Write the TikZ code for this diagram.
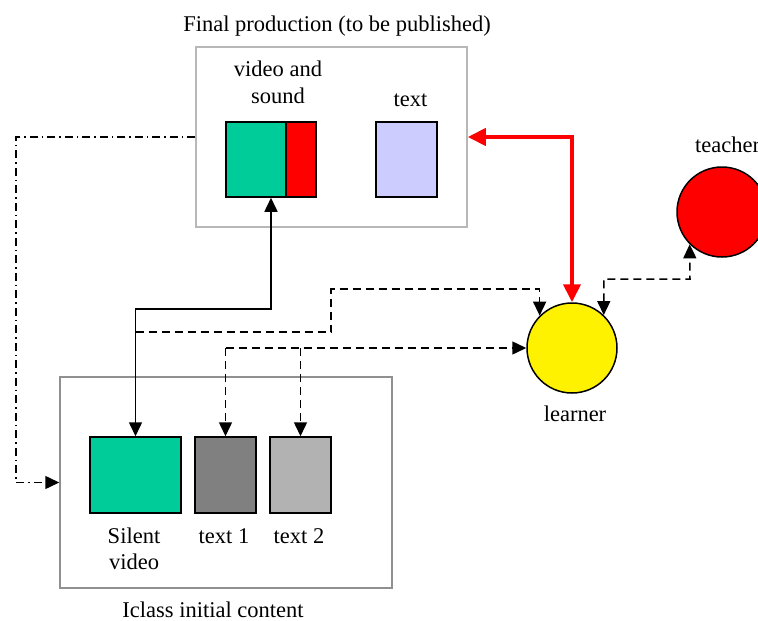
\documentclass[tikz,border=0pt]{standalone}
\usepackage{fontspec}
\setmainfont{Liberation Serif}
\usetikzlibrary{arrows.meta}
\definecolor{vgreen}{HTML}{00CC99}
\definecolor{lav}{HTML}{CCCCFF}
\definecolor{dgray}{HTML}{808080}
\definecolor{lgray}{HTML}{B2B2B2}
\definecolor{topframe}{HTML}{B8B8B8}
\definecolor{botframe}{HTML}{909090}
\tikzset{
  frame/.style={draw, line width=1.5pt, minimum width=#1},
  blk/.style={draw=black, line width=1.5pt, inner sep=0pt},
  circ/.style={circle, draw=black, line width=1.5pt, minimum size=90pt, inner sep=0pt},
  lbl/.style={inner sep=0pt, font=\fontsize{22.5}{27}\selectfont},
  conn/.style={line width=1.5pt, black, arrows={-Triangle[length=14pt,width=13pt]}},
  bothconn/.style={line width=1.5pt, black, arrows={Triangle[length=14pt,width=13pt]-Triangle[length=14pt,width=13pt]}},
  dsh/.style={dash pattern=on 8pt off 5pt},
  dshdot/.style={dash pattern=on 8pt off 4pt on 1.5pt off 4pt},
  redconn/.style={line width=4pt, red, arrows={Triangle[length=18pt,width=17pt]-Triangle[length=18pt,width=17pt]}}
}
\begin{document}
\begin{tikzpicture}[x=1pt,y=-1pt]
\useasboundingbox (0,0) rectangle (758,621);
% frames
\node[draw=topframe, line width=1.5pt, minimum width=271pt, minimum height=180pt, inner sep=0pt] (topbox) at (331.5,137) {};
\node[draw=botframe, line width=1.5pt, minimum width=332pt, minimum height=211pt, inner sep=0pt] (botbox) at (226,482.5) {};
% top content
\node[blk, fill=vgreen, minimum width=60pt, minimum height=75pt] (vgreen) at (256,159.5) {};
\node[blk, fill=red, minimum width=30pt, minimum height=75pt] (vred) at (301,159.5) {};
\node[blk, fill=lav, minimum width=61pt, minimum height=75pt] (txt) at (406.5,159.5) {};
% bottom content
\node[blk, fill=vgreen, minimum width=91pt, minimum height=76pt] (silent) at (135.5,475) {};
\node[blk, fill=dgray, minimum width=61pt, minimum height=76pt] (t1) at (225.5,475) {};
\node[blk, fill=lgray, minimum width=61pt, minimum height=76pt] (t2) at (300.5,475) {};
% circles
\node[circ, fill=yellow] (learner) at (572,348) {};
\node[circ, fill=red] (teacher) at (722,212) {};
% labels
\node[lbl, anchor=base] (ltitle) at (337,31) {Final production (to be published)};
\node[lbl, align=center] (lvs) at (278,82) {video and\\sound};
\node[lbl, anchor=base] (ltext) at (410.5,106.5) {text};
\node[lbl, align=center, font=\fontsize{22.5}{26}\selectfont] (lsilent) at (134,548.5) {Silent\\video};
\node[lbl, anchor=base] (lt1) at (224,543) {text 1};
\node[lbl, anchor=base] (lt2) at (299,543) {text 2};
\node[lbl, anchor=base] (liclass) at (213,617) {Iclass initial content};
\node[lbl, anchor=base] (llearner) at (575,421) {learner};
\node[lbl, anchor=base west] (lteacher) at (695,152) {teacher};
% solid connector
\coordinate (sj) at (271,309);
\draw[bothconn] (silent.north) |- (sj) -- (sj |- vgreen.south);
% dashed connectors
\coordinate (d1s) at (135.5,332);
\coordinate (d1m) at (331,289);
\draw[conn, dsh] (d1s) -| (d1m) -| (learner.135);
\coordinate (d2) at (t1.north |- learner.west);
\coordinate (d3) at (t2.north |- learner.west);
\draw[conn, dsh] (d2) -- (learner.west);
\draw[conn, dsh] (d2) -- (t1.north);
\draw[conn, dsh] (d3) -- (t2.north);
\coordinate (d4) at (690,279);
\draw[bothconn, dsh] (learner.46) |- (d4) -- (teacher.225);
% dash-dot connector
\coordinate (dd) at (16,482.5);
\draw[conn, dshdot] (topbox.west) -| (dd) -- (botbox.west);
% red connector
\draw[redconn] (learner.north) |- (topbox.east);
\end{tikzpicture}
\end{document}
